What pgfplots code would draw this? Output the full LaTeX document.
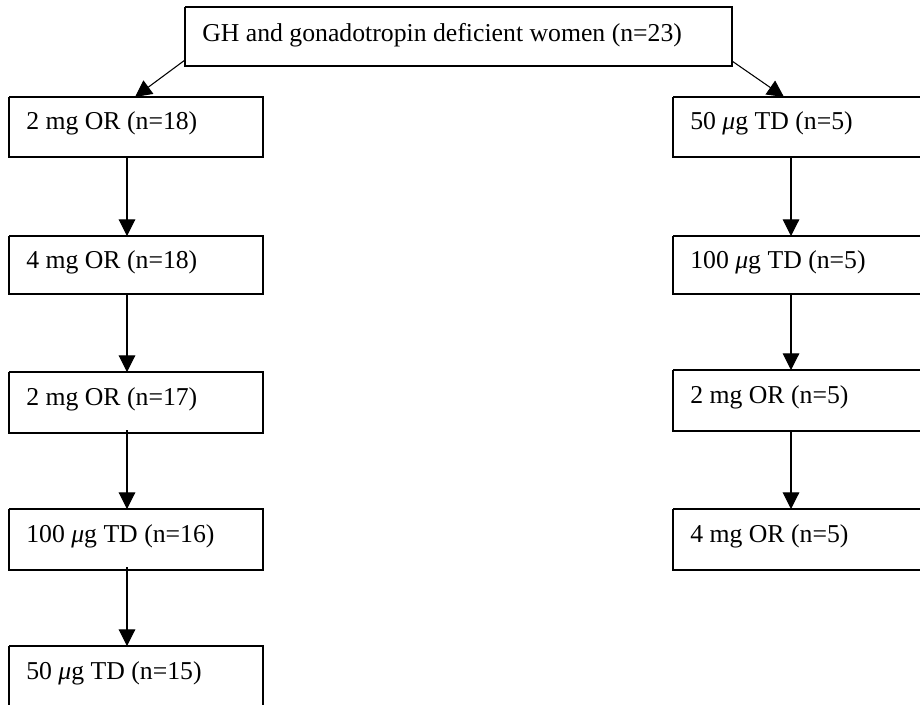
\documentclass[border=0pt]{standalone}
\usepackage{fontspec}
\setmainfont{Liberation Serif}
\usepackage{pgfplots}
\pgfplotsset{compat=1.18}
\usetikzlibrary{arrows.meta}

% one unit of the axis = one pixel of the 920x704 picture
\newcommand{\flowbox}[4]{%
  \addplot[black, line width=1pt, line join=miter] coordinates {(#1,#2) (#3,#2) (#3,#4) (#1,#4) (#1,#2)};}
\newcommand{\flowarrow}[4]{%
  \addplot[black, line width=0.8pt, -{Triangle[width=12.5pt,length=12.5pt]}] coordinates {(#1,#2) (#3,#4)};}
\newcommand{\boxtext}[3]{%
  \node[anchor=base west, inner sep=0pt, font=\fontsize{19.3}{23}\selectfont] at (axis cs:#1,#2) {#3};}

\begin{document}
\begin{tikzpicture}
\begin{axis}[
  scale only axis, width=690pt, height=528pt,
  xmin=0, xmax=920, ymin=0, ymax=704, y dir=reverse,
  hide axis, clip=true]
  \addplot[draw=none] coordinates {(0,0) (920,704)};

  % top box
  \flowbox{185}{7}{732}{66}
  \boxtext{202}{41}{GH and gonadotropin deficient women (n=23)}

  % left column
  \flowbox{9}{97}{263}{157}
  \flowbox{9}{236}{263}{294}
  \flowbox{9}{372}{263}{433}
  \flowbox{9}{509}{263}{570}
  \flowbox{9}{646}{263}{706}
  \boxtext{26}{129}{2 mg OR (n=18)}
  \boxtext{26}{268}{4 mg OR (n=18)}
  \boxtext{26}{405}{2 mg OR (n=17)}
  \boxtext{26}{542}{100 \textit{μ}g TD (n=16)}
  \boxtext{26}{679}{50 \textit{μ}g TD (n=15)}

  % right column
  \flowbox{673}{97}{927}{157}
  \flowbox{673}{236}{927}{294}
  \flowbox{673}{370}{927}{431}
  \flowbox{673}{509}{927}{570}
  \boxtext{690}{129}{50 \textit{μ}g TD (n=5)}
  \boxtext{690}{268}{100 \textit{μ}g TD (n=5)}
  \boxtext{690}{403}{2 mg OR (n=5)}
  \boxtext{690}{542}{4 mg OR (n=5)}

  % arrows
  \flowarrow{185}{60}{135}{97}
  \flowarrow{732}{61}{784}{97}
  \flowarrow{127}{157}{127}{236}
  \flowarrow{127}{294}{127}{372}
  \flowarrow{127}{430}{127}{509}
  \flowarrow{127}{567}{127}{646}
  \flowarrow{791}{157}{791}{236}
  \flowarrow{791}{294}{791}{370}
  \flowarrow{791}{431}{791}{509}
\end{axis}
\end{tikzpicture}
\end{document}
